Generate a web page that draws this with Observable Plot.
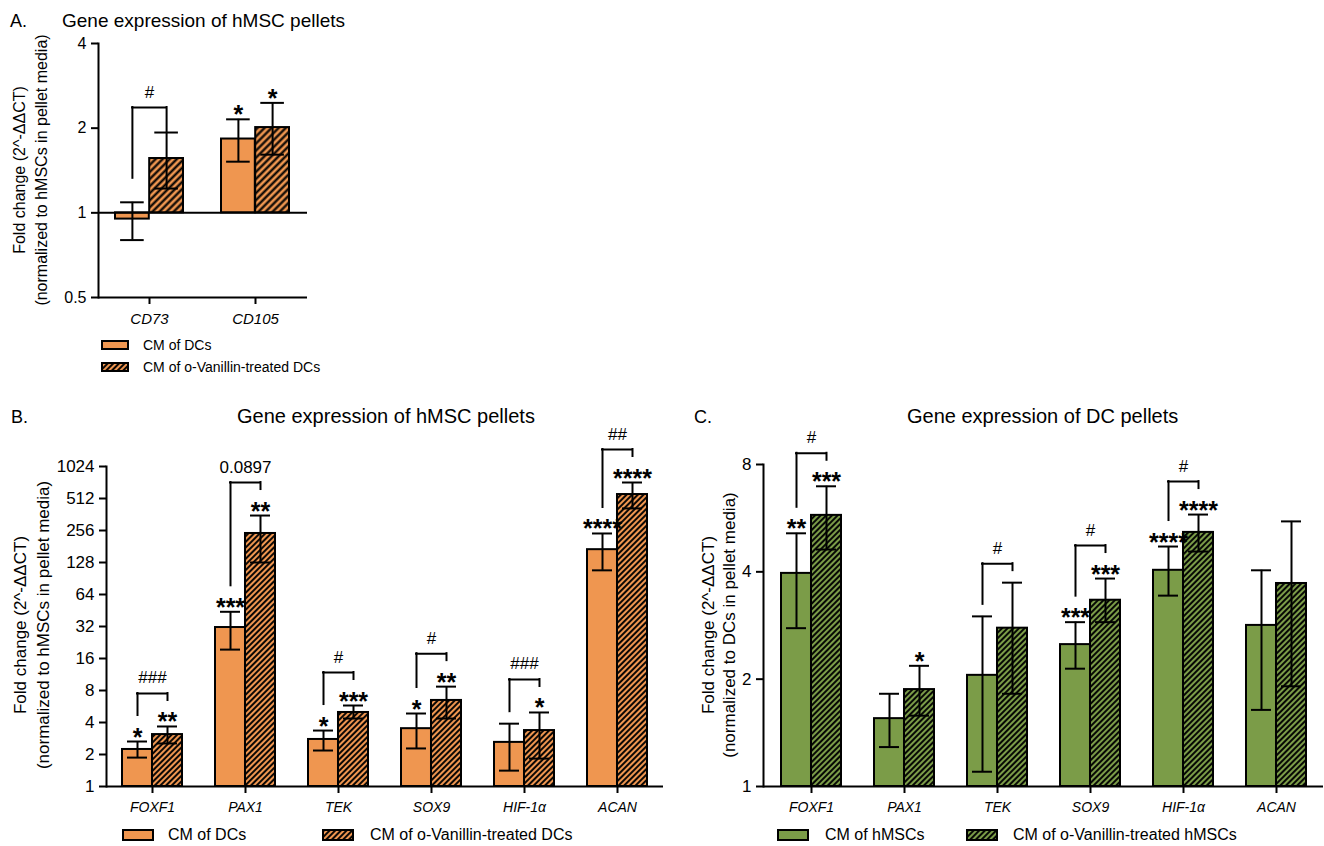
<!DOCTYPE html>
<html><head><meta charset="utf-8">
<script src="https://cdn.jsdelivr.net/npm/d3@7"></script>
<script src="https://cdn.jsdelivr.net/npm/@observablehq/plot@0.6"></script>
<style>
body{margin:0;background:#fff;font-family:"Liberation Sans",Arial,sans-serif;}
#root{position:relative;width:1324px;height:846px;overflow:hidden;background:#fff;}
.panel{position:absolute;}
.leg{position:absolute;white-space:nowrap;color:#000;display:flex;align-items:center;}
.leg svg{overflow:visible;margin-right:0;}
#overlay{position:absolute;left:0;top:0;pointer-events:none;}
</style></head><body>
<div id="root">
<svg width="0" height="0" style="position:absolute">
 <defs>
  <pattern id="hatchA" patternUnits="userSpaceOnUse" width="5" height="5" patternTransform="rotate(45)">
   <rect width="5" height="5" fill="#EF9650"/>
   <line x1="2.5" y1="0" x2="2.5" y2="5" stroke="#000" stroke-width="2.2"/>
  </pattern>
  <pattern id="hatchO" patternUnits="userSpaceOnUse" width="4" height="4" patternTransform="rotate(45)">
   <rect width="4" height="4" fill="#EF9650"/>
   <line x1="2" y1="0" x2="2" y2="4" stroke="#000" stroke-width="1.9"/>
  </pattern>
  <pattern id="hatchG" patternUnits="userSpaceOnUse" width="4" height="4" patternTransform="rotate(45)">
   <rect width="4" height="4" fill="#7B9C48"/>
   <line x1="2" y1="0" x2="2" y2="4" stroke="#000" stroke-width="1.9"/>
  </pattern>
 </defs>
</svg>
</div>
<script>
// ---------- DATA ----------
// Panel A
const genesA = ["CD73", "CD105"];
const aDC = [0.95, 1.83];
const aDCLo = [0.80, 1.52];
const aDCHi = [1.09, 2.15];
const aVan = [1.56, 2.01];
const aVanLo = [1.22, 1.61];
const aVanHi = [1.93, 2.46];
const aDCSig = ["", "*"];
const aVanSig = ["", "*"];
const aPair = ["#", ""];
const ticksA = [0.5, 1, 2, 4];

// Panel B
const genesB = ["FOXF1", "PAX1", "TEK", "SOX9", "HIF-1α", "ACAN"];
const bDC = [2.23, 31.3, 2.77, 3.5, 2.6, 169];
const bDCLo = [1.87, 19.4, 2.18, 2.28, 1.41, 108];
const bDCHi = [2.65, 44, 3.36, 4.86, 3.9, 240];
const bVan = [3.08, 240, 4.97, 6.45, 3.36, 558];
const bVanLo = [2.54, 128, 4.36, 4.36, 1.83, 413];
const bVanHi = [3.67, 354, 5.78, 8.7, 4.97, 724];
const bDCSig = ["*", "***", "*", "*", "", "****"];
const bVanSig = ["**", "**", "***", "**", "*", "****"];
const bPair = ["###", "0.0897", "#", "#", "###", "##"];
const ticksB = [1, 2, 4, 8, 16, 32, 64, 128, 256, 512, 1024];

// Panel C
const genesC = ["FOXF1", "PAX1", "TEK", "SOX9", "HIF-1α", "ACAN"];
const cMSC = [3.96, 1.55, 2.05, 2.5, 4.04, 2.83];
const cMSCLo = [2.78, 1.29, 1.10, 2.14, 3.43, 1.64];
const cMSCHi = [5.13, 1.82, 3.0, 2.89, 4.71, 4.04];
const cVan = [5.76, 1.87, 2.78, 3.33, 5.16, 3.71];
const cVanLo = [4.62, 1.58, 1.82, 2.89, 4.56, 1.91];
const cVanHi = [6.95, 2.18, 3.73, 3.83, 5.79, 5.54];
const cMSCSig = ["**", "", "", "***", "****", ""];
const cVanSig = ["***", "*", "", "***", "****", ""];
const cPair = ["#", "", "#", "#", "#", ""];
const ticksC = [1, 2, 4, 8];

const ORANGE = "#EF9650";
const GREEN = "#7B9C48";
const FONT = "'Liberation Sans', Arial, Helvetica, sans-serif";

function makePanel(cfg) {
  const rows = cfg.genes.map((g, i) => ({
    gene: g, a: cfg.a[i], aLo: cfg.aLo[i], aHi: cfg.aHi[i],
    b: cfg.b[i], bLo: cfg.bLo[i], bHi: cfg.bHi[i],
    aSig: cfg.aSig[i], bSig: cfg.bSig[i], pair: cfg.pair[i]
  }));
  const {width, height, mt, mb, ml, mr} = cfg;
  const xOpt = {domain: cfg.genes, paddingInner: cfg.padIn, paddingOuter: cfg.padOut};
  const yOpt = {type: "log", base: 2, domain: cfg.domain};
  const xs = Plot.scale({x: {type: "band", ...xOpt, range: [ml, width - mr]}});
  const ys = Plot.scale({y: {...yOpt, range: [height - mb, mt]}});
  const bw = xs.bandwidth, q = bw / 4, cap = cfg.cap;
  const br = rows.filter(r => r.pair).map(r => {
    const l = ys.apply(r.aHi) - (r.aSig ? cfg.br.star : cfg.br.noneL);
    const rr = ys.apply(r.bHi) - (r.bSig ? cfg.br.star : cfg.br.noneR);
    const t = Math.min(l, rr) - cfg.br.top;
    return {gene: r.gene, pair: r.pair, left: ys.invert(l), right: ys.invert(rr), top: ys.invert(t), label: ys.invert(t - 10)};
  });
  const one = () => 1;
  const marks = [
    Plot.barY(rows, {x: "gene", y1: one, y2: "a", fill: cfg.fill, stroke: "black", strokeWidth: 2, insetRight: bw / 2}),
    Plot.barY(rows, {x: "gene", y1: one, y2: "b", fill: `url(#${cfg.hatch})`, stroke: "black", strokeWidth: 2, insetLeft: bw / 2}),
    // error bars
    Plot.ruleX(rows, {x: "gene", y1: "aLo", y2: "aHi", dx: -q, strokeWidth: 2}),
    Plot.ruleX(rows, {x: "gene", y1: "bLo", y2: "bHi", dx: q, strokeWidth: 2}),
    Plot.tickY(rows, {x: "gene", y: "aHi", insetLeft: q - cap / 2, insetRight: 3 * q - cap / 2, strokeWidth: 2}),
    Plot.tickY(rows, {x: "gene", y: "aLo", insetLeft: q - cap / 2, insetRight: 3 * q - cap / 2, strokeWidth: 2}),
    Plot.tickY(rows, {x: "gene", y: "bHi", insetLeft: 3 * q - cap / 2, insetRight: q - cap / 2, strokeWidth: 2}),
    Plot.tickY(rows, {x: "gene", y: "bLo", insetLeft: 3 * q - cap / 2, insetRight: q - cap / 2, strokeWidth: 2}),
    // significance stars
    Plot.text(rows, {x: "gene", y: "aHi", text: "aSig", dx: -q, dy: 4, lineAnchor: "bottom", fontSize: 25, fontWeight: "bold"}),
    Plot.text(rows, {x: "gene", y: "bHi", text: "bSig", dx: q, dy: 4, lineAnchor: "bottom", fontSize: 25, fontWeight: "bold"}),
    // brackets
    Plot.ruleX(br, {x: "gene", y1: "left", y2: "top", dx: -q, strokeWidth: 2, strokeLinecap: "square"}),
    Plot.ruleX(br, {x: "gene", y1: "right", y2: "top", dx: q, strokeWidth: 2, strokeLinecap: "square"}),
    Plot.tickY(br, {x: "gene", y: "top", insetLeft: q, insetRight: q, strokeWidth: 2, strokeLinecap: "square"}),
    Plot.text(br, {x: "gene", y: "label", text: "pair", lineAnchor: "bottom", fontSize: 17}),
    // axes
    Plot.ruleY([cfg.domain[0]], {strokeWidth: 2}),
    ...(cfg.baseline ? [Plot.ruleY([1], {strokeWidth: 2})] : []),
    Plot.frame({anchor: "left", strokeWidth: 2}),
    Plot.axisY({ticks: cfg.ticks, tickFormat: d => String(d), tickSize: 7, tickPadding: 5, fontSize: cfg.yFont, strokeWidth: 2, label: null}),
    Plot.axisX({tickSize: 7, tickPadding: 9, fontSize: cfg.xFont, fontStyle: "italic", strokeWidth: 2, label: null})
  ];
  const svg = Plot.plot({
    width, height, marginTop: mt, marginBottom: mb, marginLeft: ml, marginRight: mr,
    x: {type: "band", ...xOpt, axis: null},
    y: {...yOpt, axis: null},
    style: {fontFamily: FONT, fontSize: "16px", color: "black", background: "transparent", overflow: "visible"},
    marks
  });
  const wrap = document.createElement("div");
  wrap.className = "panel";
  wrap.style.left = cfg.left + "px";
  wrap.style.top = cfg.top + "px";
  wrap.appendChild(svg);
  document.getElementById("root").appendChild(wrap);
}

makePanel({
  genes: genesA, a: aDC, aLo: aDCLo, aHi: aDCHi, b: aVan, bLo: aVanLo, bHi: aVanHi,
  aSig: aDCSig, bSig: aVanSig, pair: aPair, ticks: ticksA, domain: [0.5, 4],
  left: 0, top: 0, width: 327, height: 337, mt: 43, mb: 40, ml: 98, mr: 20,
  padIn: 0.358, padOut: 0.16, cap: 24, fill: ORANGE, hatch: "hatchA", baseline: true,
  yFont: 16, xFont: 15, br: {star: 26, noneL: 24, noneR: 0, top: 25}
});
makePanel({
  genes: genesB, a: bDC, aLo: bDCLo, aHi: bDCHi, b: bVan, bLo: bVanLo, bHi: bVanHi,
  aSig: bDCSig, bSig: bVanSig, pair: bPair, ticks: ticksB, domain: [1, 1024],
  left: 0, top: 400, width: 673, height: 421, mt: 66, mb: 35, ml: 106, mr: 10,
  padIn: 0.355, padOut: 0.172, cap: 20, fill: ORANGE, hatch: "hatchO", baseline: false,
  yFont: 17, xFont: 14, br: {star: 26, noneL: 12, noneR: 12, top: 7}
});
makePanel({
  genes: genesC, a: cMSC, aLo: cMSCLo, aHi: cMSCHi, b: cVan, bLo: cVanLo, bHi: cVanHi,
  aSig: cMSCSig, bSig: cVanSig, pair: cPair, ticks: ticksC, domain: [1, 8],
  left: 690, top: 400, width: 634, height: 421, mt: 64, mb: 35, ml: 73, mr: 1,
  padIn: 0.359, padOut: 0.171, cap: 20, fill: GREEN, hatch: "hatchG", baseline: false,
  yFont: 17, xFont: 14, br: {star: 26, noneL: 12, noneR: 12, top: 7}
});

// ---------- titles & axis labels ----------
const root = d3.select("#root");
const ov = root.append("svg").attr("id", "overlay").attr("width", 1324).attr("height", 846)
  .style("font-family", FONT);
const texts = [
  {t: "A.", x: 10, y: 27, s: 18},
  {t: "Gene expression of hMSC pellets", x: 62, y: 27, s: 19},
  {t: "B.", x: 11, y: 423, s: 18},
  {t: "Gene expression of hMSC pellets", x: 237, y: 423, s: 20},
  {t: "C.", x: 694, y: 423, s: 18},
  {t: "Gene expression of DC pellets", x: 907, y: 423, s: 20}
];
ov.selectAll("text.t").data(texts).join("text").attr("class", "t")
  .attr("x", d => d.x).attr("y", d => d.y).attr("font-size", d => d.s).text(d => d.t);
const ylabels = [
  {t: "Fold change  (2^-ΔΔCT)", x: 25, y: 170, s: 16},
  {t: "(normalized to hMSCs in pellet media)", x: 47, y: 170, s: 16},
  {t: "Fold change  (2^-ΔΔCT)", x: 26, y: 625, s: 17},
  {t: "(normalized to hMSCs in pellet media)", x: 49, y: 625, s: 17},
  {t: "Fold change  (2^-ΔΔCT)", x: 714, y: 625, s: 17},
  {t: "(normalized to DCs in pellet media)", x: 735, y: 625, s: 17}
];
ov.selectAll("text.yl").data(ylabels).join("text").attr("class", "yl")
  .attr("transform", d => `translate(${d.x},${d.y}) rotate(-90)`)
  .attr("text-anchor", "middle").attr("font-size", d => d.s).text(d => d.t);

// ---------- legends ----------
function legendItem(x, y, w, h, fill, label, fontSize, textX) {
  const div = root.append("div").attr("class", "leg")
    .style("left", x + "px").style("top", (y - 12) + "px").style("height", "24px");
  const s = div.append("svg").attr("width", w).attr("height", 24);
  s.append("rect").attr("x", 0).attr("y", 12 - h / 2).attr("width", w).attr("height", h)
    .attr("fill", fill).attr("stroke", "black").attr("stroke-width", 2);
  div.append("span").style("font-size", fontSize + "px").style("margin-left", (textX - x - w) + "px").text(label);
}
legendItem(102, 345, 26, 8, ORANGE, "CM of DCs", 14, 143);
legendItem(102, 367, 26, 8, "url(#hatchO)", "CM of o-Vanillin-treated DCs", 14, 143);
legendItem(123, 835, 30, 10, ORANGE, "CM of DCs", 16, 168);
legendItem(323, 835, 30, 10, "url(#hatchO)", "CM of o-Vanillin-treated DCs", 16, 370);
legendItem(778, 835, 30, 10, GREEN, "CM of hMSCs", 16, 825);
legendItem(967, 835, 30, 10, "url(#hatchG)", "CM of o-Vanillin-treated hMSCs", 16, 1013);
</script>
</body></html>
